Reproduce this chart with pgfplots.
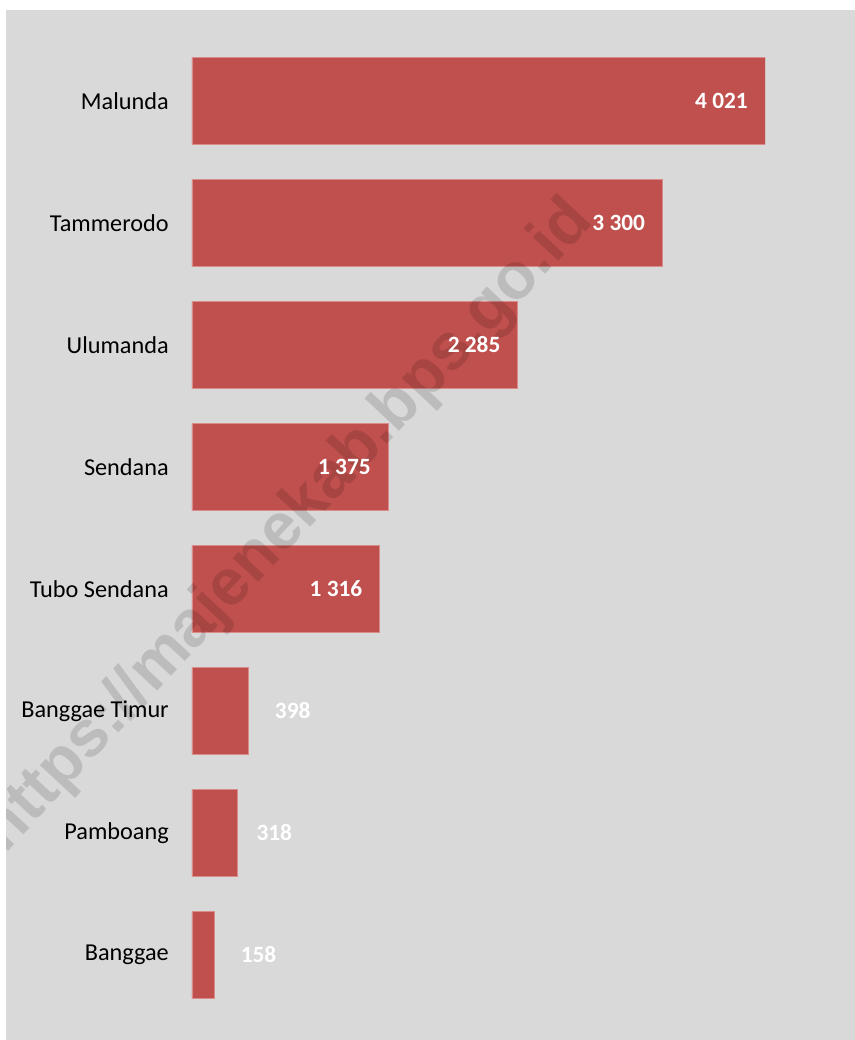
\documentclass[border=0pt]{standalone}
\usepackage{pgfplots}
\pgfplotsset{compat=1.18}
\usepackage{fontspec}
\setmainfont{Carlito}
\newfontfamily\wmfont{Liberation Sans}

\definecolor{bgc}{HTML}{D9D9D9}
\definecolor{barc}{HTML}{C0504D}
\definecolor{barline}{HTML}{D98C8A}

% 1 px of the reference = 0.75pt
\pgfplotsset{
  base/.style={
    xbar, bar shift=0pt, bar width=0.713,
    scale only axis, width=429.75pt, height=732pt,
    xmin=0, xmax=4021, ymin=-0.5, ymax=7.5, y dir=reverse,
    enlargelimits=false,
    hide x axis,
    axis y line*=left, y axis line style={draw=none},
    ytick style={draw=none}, major tick length=0pt,
    ytick={0,...,7},
    yticklabels={Malunda,Tammerodo,Ulumanda,Sendana,Tubo Sendana,Banggae Timur,Pamboang,Banggae},
    yticklabel style={anchor=east, inner sep=0pt, xshift=-17.25pt,
      font=\fontsize{18.2}{20}\selectfont},
    /pgf/number format/assume math mode=true,
    /pgf/number format/1000 sep={\ },
    at={(144pt,18pt)}, anchor=south west,
  },
  lbl/.style={nodes near coords,
    nodes near coords style={font=\bfseries\fontsize{17.5}{20}\selectfont,
      text=white, anchor=east, inner sep=0pt, xshift=#1}},
}

\begin{document}
\begin{tikzpicture}
\fill[white] (0pt,0pt) rectangle (641.25pt,780pt);
\fill[bgc] (4.5pt,0pt) rectangle (641.25pt,772.5pt);

% bars
\begin{axis}[base]
\addplot[fill=barc, draw=barline, line width=0.6pt] coordinates
  {(4021,0) (3300,1) (2285,2) (1375,3) (1316,4) (398,5) (318,6) (158,7)};
\end{axis}

% watermark
\begin{scope}
\clip (4.5pt,0pt) rectangle (641.25pt,772.5pt);
\node[rotate=47, text=black, text opacity=0.13,
  font=\wmfont\bfseries\fontsize{49}{50}\selectfont] at (216pt,385pt)
  {https://majenekab.bps.go.id};
\end{scope}

% value labels on top
\begin{axis}[base, hide axis]
\addplot[draw=none, fill=none, lbl=-12.75pt] coordinates
  {(4021,0) (3300,1) (2285,2) (1375,3) (1316,4)};
\addplot[draw=none, fill=none, lbl=46.5pt] coordinates
  {(398,5) (158,7)};
\addplot[draw=none, fill=none, lbl=41.25pt] coordinates
  {(318,6)};
\end{axis}

\pgfresetboundingbox
\useasboundingbox (0pt,0pt) rectangle (641.25pt,780pt);
\end{tikzpicture}
\end{document}
